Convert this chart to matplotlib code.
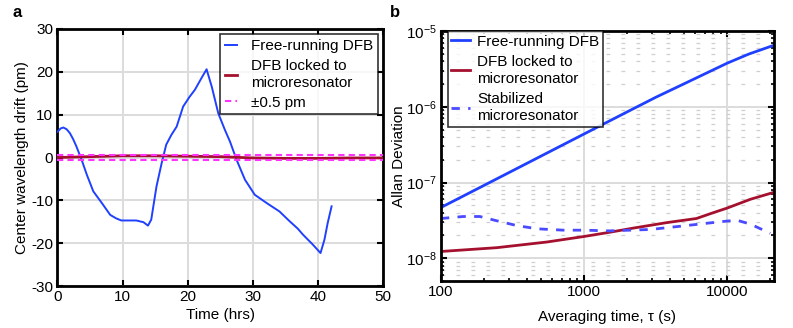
import numpy as np
import matplotlib.pyplot as plt
from matplotlib.ticker import LogLocator, NullFormatter, FixedLocator

plt.rcParams["font.family"] = ["Liberation Sans", "DejaVu Sans"]
plt.rcParams["mathtext.fontset"] = "custom"
plt.rcParams["mathtext.rm"] = "Liberation Sans"
plt.rcParams["mathtext.it"] = "Liberation Sans:italic"
plt.rcParams["axes.unicode_minus"] = False
plt.rcParams["font.size"] = 11

# ---- panel a: wavelength drift ----
free_t = [0.0, 0.5, 0.9, 1.4, 1.9, 2.4, 2.9, 3.7, 4.5, 5.5, 6.8, 8.1, 9.0, 9.8,
          12.1, 13.2, 13.9, 14.4, 15.2, 16.0, 16.7, 17.5, 18.3, 19.3, 20.3,
          21.1, 22.1, 22.9, 23.7, 24.7, 25.7, 26.5, 27.5, 28.8, 30.3, 32.1,
          34.1, 35.6, 36.9, 37.7, 39.2, 40.4, 41.0, 41.5, 42.1]
free_drift = [6.0, 6.8, 7.0, 6.6, 5.7, 4.3, 2.6, -0.5, -4.0, -7.9, -10.6, -13.4,
              -14.2, -14.7, -14.7, -15.1, -15.9, -14.5, -6.8, -1.3, 3.0, 5.3,
              7.2, 11.9, 14.2, 15.8, 18.5, 20.6, 16.5, 10.3, 6.5, 3.7, -0.5,
              -5.2, -8.7, -10.6, -12.6, -14.8, -16.6, -18.0, -20.3, -22.3,
              -19.2, -15.3, -11.4]

locked_t = [0, 5, 10, 15, 20, 25, 30, 35, 40, 45, 50]
locked_drift = [0.0, 0.2, 0.4, 0.4, 0.3, 0.2, -0.1, -0.2, -0.2, -0.1, -0.1]

bound_t = [0, 50]
bound_pm = 0.5

# ---- panel b: Allan deviation ----
tau_free = [100, 200, 500, 1000, 2000, 3162, 5000, 10000, 14125, 21100]
adev_free = [4.68e-8, 9.16e-8, 2.23e-7, 4.37e-7, 8.55e-7, 1.33e-6, 2.01e-6,
             3.76e-6, 4.95e-6, 6.46e-6]

tau_lock = [100, 245, 550, 1000, 1500, 2200, 3800, 6100, 8000, 10000, 14500, 21100]
adev_lock = [1.23e-8, 1.38e-8, 1.64e-8, 1.94e-8, 2.2e-8, 2.5e-8, 2.96e-8,
             3.35e-8, 4.0e-8, 4.6e-8, 6.0e-8, 7.4e-8]

tau_res = [100, 143, 187, 245, 340, 470, 720, 1000, 1500, 2900, 4900, 7200,
           10000, 11700, 14500, 20000]
adev_res = [3.35e-8, 3.56e-8, 3.56e-8, 3.13e-8, 2.7e-8, 2.45e-8, 2.35e-8,
            2.35e-8, 2.3e-8, 2.4e-8, 2.67e-8, 2.9e-8, 3.1e-8, 3.18e-8,
            2.83e-8, 2.14e-8]

BLUE = "#2040ff"
RED = "#a5102e"
MAGENTA = "#ff33ff"
DASHBLUE = "#4a4aff"

fig = plt.figure(figsize=(7.93, 3.28), dpi=100)
ax1 = fig.add_axes([0.0725, 0.128, 0.4105, 0.7836])
ax2 = fig.add_axes([0.556, 0.143, 0.4195, 0.7625])

for ax in (ax1, ax2):
    for s in ax.spines.values():
        s.set_linewidth(2.0)
    ax.tick_params(which="both", direction="in", top=True, right=True,
                   labelsize=11, pad=3)
    ax.tick_params(which="major", length=4, width=1.5)
    ax.tick_params(which="minor", length=2.5, width=1.2)

# panel a
ax1.grid(True, color="#dcdcdc", lw=1.4)
ax1.set_axisbelow(True)
ax1.plot(free_t, free_drift, color=BLUE, lw=1.4, label="Free-running DFB", zorder=3)
ax1.plot(locked_t, locked_drift, color=RED, lw=2.0,
         label="DFB locked to\nmicroresonator", zorder=4)
ax1.plot(bound_t, [bound_pm, bound_pm], color=MAGENTA, lw=1.5, ls=(0, (3, 2)),
         label="\u00b10.5 pm", zorder=5)
ax1.plot(bound_t, [-bound_pm, -bound_pm], color=MAGENTA, lw=1.5, ls=(0, (3, 2)),
         zorder=5)
ax1.set_xlim(0, 50)
ax1.set_ylim(-30, 30)
ax1.set_xticks([0, 10, 20, 30, 40, 50])
ax1.set_yticks([-30, -20, -10, 0, 10, 20, 30])
ax1.set_xlabel("Time (hrs)", fontsize=11, labelpad=3)
ax1.set_ylabel("Center wavelength drift (pm)", fontsize=11, labelpad=2)
leg1 = ax1.legend(loc="upper right", fontsize=11, frameon=True, fancybox=False,
                  edgecolor="black", handlelength=0.8, handletextpad=0.9,
                  borderpad=0.3, labelspacing=0.38, borderaxespad=0.35)
leg1.get_frame().set_linewidth(1.2)
for t in leg1.get_texts():
    t.set_linespacing(1.3)
ax1.text(-0.137, 1.035, "a", transform=ax1.transAxes, fontsize=12,
         fontweight="bold", va="bottom")

# panel b
ax2.set_xscale("log")
ax2.set_yscale("log")
ax2.set_xlim(100, 21100)
ax2.set_ylim(5e-9, 1e-5)
ax2.grid(True, which="major", color="#dcdcdc", lw=1.4)
ax2.yaxis.set_minor_locator(LogLocator(base=10, subs=np.arange(2, 10), numticks=20))
ax2.yaxis.set_minor_formatter(NullFormatter())
ax2.xaxis.set_minor_locator(LogLocator(base=10, subs=np.arange(2, 10), numticks=20))
ax2.xaxis.set_minor_formatter(NullFormatter())
ax2.grid(True, which="minor", axis="y", color="#cfcfcf", lw=0.9, ls=(0, (3, 9)))
ax2.set_axisbelow(True)
ax2.plot(tau_free, adev_free, color=BLUE, lw=2.0, label="Free-running DFB")
ax2.plot(tau_lock, adev_lock, color=RED, lw=2.0,
         label="DFB locked to\nmicroresonator")
ax2.plot(tau_res, adev_res, color=DASHBLUE, lw=2.0, ls=(0, (3, 3)),
         label="Stabilized\nmicroresonator")
ax2.xaxis.set_major_locator(FixedLocator([100, 1000, 10000]))
ax2.set_xticklabels(["100", "1000", "10000"])
ax2.yaxis.set_major_locator(FixedLocator([1e-8, 1e-7, 1e-6, 1e-5]))
ax2.set_yticklabels([r"$10^{-8}$", r"$10^{-7}$", r"$10^{-6}$", r"$10^{-5}$"])
ax2.set_xlabel("Averaging time, \u03c4 (s)", fontsize=11, labelpad=8)
ax2.set_ylabel("Allan Deviation", fontsize=11, labelpad=0)
leg2 = ax2.legend(loc="upper left", fontsize=11, frameon=True, fancybox=False,
                  edgecolor="black", handlelength=1.2, handletextpad=0.5,
                  borderpad=0.25, labelspacing=0.38, borderaxespad=0.0,
                  bbox_to_anchor=(0.02, 1.0))
leg2.get_frame().set_linewidth(1.2)
for t in leg2.get_texts():
    t.set_linespacing(1.3)
ax2.text(-0.153, 1.044, "b", transform=ax2.transAxes, fontsize=12,
         fontweight="bold", va="bottom")

fig.savefig("out.png", dpi=100)
